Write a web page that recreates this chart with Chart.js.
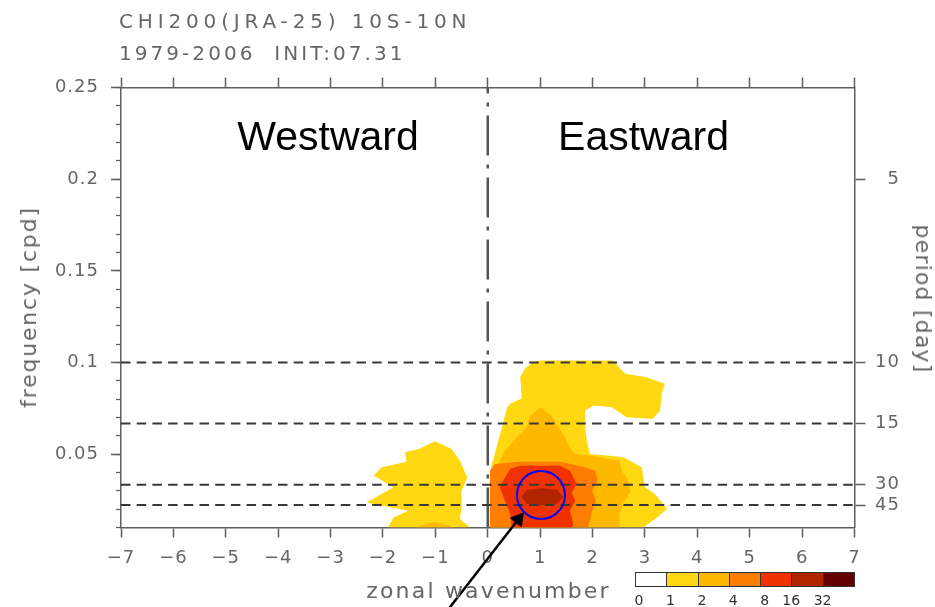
<!DOCTYPE html>
<html lang="en">
<head>
<meta charset="UTF-8">
<title>CHI200(JRA-25) 10S-10N wavenumber-frequency spectrum</title>
<script src="https://cdn.jsdelivr.net/npm/chart.js@4.4.1/dist/chart.umd.min.js"></script>
<style>
    body { margin: 0; padding: 0; background: #fff; }
    #wrap { position: relative; width: 935px; height: 607px; overflow: hidden; background: #fff; }
    #wrap canvas { position: absolute; left: 0; top: 0; }
    .txt {
        position: absolute;
        white-space: nowrap;
        line-height: 1;
        font-family: 'DejaVu Sans', sans-serif;
        font-size: 20px;
        color: #666;
    }
    .big {
        position: absolute;
        white-space: nowrap;
        line-height: 1;
        font-family: 'Liberation Sans', Arial, sans-serif;
        font-size: 41px;
        color: #000;
        transform: translate(-50%, -50%);
    }
    #cbar {
        position: absolute;
        left: 635px; top: 572px;
        width: 220px; height: 15px;
        box-sizing: border-box;
        border: 1px solid #333;
        display: flex;
    }
    #cbar div { flex: 1; border-left: 1px solid #333; }
    #cbar div:first-child { border-left: none; }
    .cblab {
        position: absolute;
        line-height: 1;
        font-family: 'DejaVu Sans', sans-serif;
        font-size: 14px;
        color: #333;
        transform: translate(-50%, -50%);
    }
</style>
</head>
<body>
<div id="wrap">
    <canvas id="spec" width="935" height="607"></canvas>

    <div class="txt" style="left:119px; top:21px; transform:translateY(-50%); letter-spacing:4.85px;">CHI200(JRA-25) 10S-10N</div>
    <div class="txt" style="left:119px; top:53px; transform:translateY(-50%); letter-spacing:3.05px;">1979-2006&nbsp; INIT:07.31</div>

    <div class="big" style="left:328px; top:135.5px;">Westward</div>
    <div class="big" style="left:643.5px; top:135.5px;">Eastward</div>

    <div class="txt" style="left:28.5px; top:306.5px; font-size:22px; transform:translate(-50%,-50%) rotate(-90deg); letter-spacing:1.8px;">frequency [cpd]</div>
    <div class="txt" style="left:488.5px; top:590.5px; font-size:22px; transform:translate(-50%,-50%); letter-spacing:2.2px;">zonal wavenumber</div>
    <div class="txt" style="left:923px; top:299px; font-size:22px; transform:translate(-50%,-50%) rotate(90deg); letter-spacing:1.2px;">period [day]</div>

    <div id="cbar"></div>
</div>

<script>
    // axis ranges
    const kMin = -7, kMax = 7;
    const freqMin = 0.01, freqMax = 0.25;

    // tick labels
    const freqLabels = [0.05, 0.1, 0.15, 0.2, 0.25];
    const freqMinor = [0.01, 0.02, 0.03, 0.04, 0.05, 0.06, 0.07, 0.08, 0.09, 0.1,
                       0.11, 0.12, 0.13, 0.14, 0.15, 0.16, 0.17, 0.18, 0.19, 0.2,
                       0.21, 0.22, 0.23, 0.24, 0.25];
    const periodTicks = [5, 10, 15, 30, 45];
    const periodLines = [10, 15, 30, 45];   // dashed reference periods (days)

    // shading levels and their colours
    const levelLabels = ['0', '1', '2', '4', '8', '16', '32'];
    const levelColors = ['#ffffff', '#ffd812', '#ffb800', '#ff7d00', '#f03200', '#b02400', '#640000'];

    // contour outlines, [zonal wavenumber, frequency cpd]
    const west1 = [
        [-1.90, 0.010], [-1.80, 0.0155], [-1.52, 0.0191], [-2.32, 0.0237],
        [-1.80, 0.0319], [-2.18, 0.0383], [-2.02, 0.0428], [-1.55, 0.0459],
        [-1.58, 0.0510], [-1.32, 0.0528], [-1.01, 0.0571], [-0.69, 0.0528],
        [-0.53, 0.0464], [-0.39, 0.0373], [-0.50, 0.0301], [-0.50, 0.0209],
        [-0.53, 0.0146], [-0.34, 0.010]
    ];
    const west2 = [[-1.39, 0.010], [-1.01, 0.0131], [-0.62, 0.010]];
    const east1 = [
        [0.04, 0.010], [0.06, 0.0264], [0.06, 0.0428], [0.10, 0.0464], [0.20, 0.0574],
        [0.29, 0.0665], [0.37, 0.0756], [0.43, 0.0776], [0.65, 0.0803], [0.62, 0.0920],
        [0.71, 0.0967], [0.86, 0.1002], [1.00, 0.1011], [2.39, 0.1011], [2.62, 0.0938],
        [3.03, 0.0920], [3.38, 0.0884], [3.32, 0.0829], [3.29, 0.0738], [3.15, 0.0692],
        [2.65, 0.0701], [2.37, 0.0756], [2.02, 0.0765], [1.86, 0.0738], [1.86, 0.0646],
        [1.89, 0.0574], [1.95, 0.0501], [2.33, 0.0492], [2.59, 0.0483], [2.94, 0.0428],
        [3.00, 0.0319], [3.19, 0.0283], [3.42, 0.0201], [3.23, 0.0155], [2.97, 0.010]
    ];
    const east2 = [
        [0.08, 0.010], [0.08, 0.0337], [0.14, 0.0401], [0.20, 0.0446], [0.33, 0.0519],
        [0.55, 0.0592], [0.74, 0.0646], [0.81, 0.0710], [1.00, 0.0756], [1.22, 0.0710],
        [1.35, 0.0646], [1.48, 0.0592], [1.57, 0.0537], [1.67, 0.0501], [1.98, 0.0492],
        [2.52, 0.0464], [2.56, 0.0410], [2.68, 0.0355], [2.72, 0.0291], [2.59, 0.0237],
        [2.52, 0.0173], [2.52, 0.010]
    ];
    const east4 = [
        [0.04, 0.010], [0.04, 0.0410], [0.14, 0.0446], [0.62, 0.0459], [1.38, 0.0459],
        [1.86, 0.0428], [2.05, 0.0410], [2.10, 0.0355], [1.99, 0.0301], [2.07, 0.0246],
        [1.99, 0.0191], [1.95, 0.0137], [1.91, 0.010]
    ];
    const east8 = [
        [0.46, 0.010], [0.43, 0.0173], [0.33, 0.0246], [0.23, 0.0319], [0.33, 0.0373],
        [0.43, 0.0421], [0.62, 0.0437], [1.38, 0.0437], [1.57, 0.0410], [1.70, 0.0337],
        [1.60, 0.0291], [1.67, 0.0246], [1.57, 0.0191], [1.63, 0.0119], [1.61, 0.010]
    ];
    const east16 = [
        [0.64, 0.0268], [0.75, 0.0306], [1.04, 0.0314], [1.32, 0.0306], [1.44, 0.0268],
        [1.32, 0.0230], [1.04, 0.0221], [0.75, 0.0230]
    ];

    // annotation: circled peak and the arrow pointing at it
    const peakMark = [1.016, 0.0277];
    const arrowPath = [[-0.79, -0.036], [0.585, 0.0145]];

    const axisGray = '#5e5e5e';
    const labelGray = '#666';
    const tickFont = { family: 'DejaVu Sans', size: 18 };

    const toXY = pts => pts.map(p => ({ x: p[0], y: p[1] }));

    function shade(pts, level, order) {
        return {
            data: toXY(pts),
            backgroundColor: levelColors[level],
            borderColor: levelColors[level],
            borderWidth: 0,
            fill: 'shape',
            pointRadius: 0,
            tension: 0,
            order: order
        };
    }

    const datasets = [
        shade(west1, 1, 20), shade(east1, 1, 20),
        shade(west2, 2, 19), shade(east2, 2, 19),
        shade(east4, 3, 18),
        shade(east8, 4, 17),
        shade(east16, 5, 16)
    ];

    periodLines.forEach(p => {
        datasets.push({
            data: [{ x: kMin, y: 1 / p }, { x: kMax, y: 1 / p }],
            borderColor: '#383838',
            borderWidth: 2,
            borderDash: [9.5, 6.2],
            pointRadius: 0,
            fill: false,
            order: 5
        });
    });

    // dash-dot line at wavenumber 0
    datasets.push({
        data: [{ x: 0, y: freqMin }, { x: 0, y: freqMax }],
        borderColor: '#555',
        borderWidth: 2.5,
        borderDash: [40, 9, 4, 9],
        pointRadius: 0,
        fill: false,
        order: 5
    });

    datasets.push({
        data: [{ x: peakMark[0], y: peakMark[1] }],
        showLine: false,
        pointRadius: 24,
        pointStyle: 'circle',
        pointBorderColor: '#0000ff',
        pointBorderWidth: 2,
        pointBackgroundColor: 'rgba(0,0,0,0)',
        order: 1
    });

    datasets.push({
        data: toXY(arrowPath),
        borderColor: '#000',
        borderWidth: 2.5,
        pointRadius: [0, 8],
        pointStyle: 'triangle',
        rotation: [0, 38],
        pointBackgroundColor: '#000',
        pointBorderColor: '#000',
        pointBorderWidth: 1,
        fill: false,
        clip: false,
        order: 1
    });

    const fmtK = v => (v < 0 ? '\u2212' + (-v) : String(v));

    const spacing = {
        id: 'spacing',
        beforeDraw(chart) { chart.ctx.letterSpacing = '1px'; }
    };

    new Chart(document.getElementById('spec'), {
        type: 'line',
        data: { datasets },
        plugins: [spacing],
        options: {
            responsive: false,
            animation: false,
            events: [],
            devicePixelRatio: 1,
            layout: { padding: { left: 0, top: 0, bottom: 0, right: 35 } },
            plugins: { legend: { display: false }, tooltip: { enabled: false } },
            scales: {
                x: {
                    type: 'linear', position: 'bottom', min: kMin, max: kMax,
                    afterFit: s => { s.height = 79.5; },
                    border: { display: true, color: axisGray, width: 1.5 },
                    grid: { drawOnChartArea: false, tickLength: 10, tickColor: axisGray, tickWidth: 1.5 },
                    ticks: {
                        stepSize: 1, autoSkip: false, maxRotation: 0, padding: 10.5,
                        color: labelGray, font: tickFont, callback: v => fmtK(v)
                    }
                },
                xTop: {
                    type: 'linear', position: 'top', min: kMin, max: kMax,
                    afterFit: s => { s.height = 87.5; },
                    border: { display: true, color: axisGray, width: 1.5 },
                    grid: { drawOnChartArea: false, tickLength: 10, tickColor: axisGray, tickWidth: 1.5 },
                    ticks: { stepSize: 1, display: false }
                },
                y: {
                    type: 'linear', position: 'left', min: freqMin, max: freqMax, weight: 1,
                    afterFit: s => { s.width = 121; },
                    afterBuildTicks: s => { s.ticks = freqLabels.map(v => ({ value: v })); },
                    border: { display: true, color: axisGray, width: 1.5 },
                    grid: { drawOnChartArea: false, tickLength: 10, tickColor: axisGray, tickWidth: 1.5 },
                    ticks: { padding: 12, color: labelGray, font: tickFont, callback: v => String(v) }
                },
                yMinor: {
                    type: 'linear', position: 'left', min: freqMin, max: freqMax, weight: 0,
                    afterFit: s => { s.width = 0; },
                    afterBuildTicks: s => { s.ticks = freqMinor.map(v => ({ value: v })); },
                    border: { display: false },
                    grid: { drawOnChartArea: false, tickLength: 5, tickColor: axisGray, tickWidth: 1.3 },
                    ticks: { display: false }
                },
                yPeriod: {
                    type: 'linear', position: 'right', min: freqMin, max: freqMax,
                    afterFit: s => { s.width = 45.5; },
                    afterBuildTicks: s => { s.ticks = periodTicks.map(p => ({ value: 1 / p })); },
                    border: { display: true, color: axisGray, width: 1.5 },
                    grid: { drawOnChartArea: false, tickLength: 11, tickColor: axisGray, tickWidth: 1.5 },
                    ticks: {
                        crossAlign: 'far', padding: 12, color: labelGray, font: tickFont,
                        callback: v => String(Math.round(1 / v))
                    }
                }
            }
        }
    });

    // colour bar
    const cbar = document.getElementById('cbar');
    const wrap = document.getElementById('wrap');
    const cellW = 220 / levelColors.length;
    levelColors.forEach(c => {
        const d = document.createElement('div');
        d.style.background = c;
        cbar.appendChild(d);
    });
    levelLabels.forEach((t, i) => {
        const s = document.createElement('span');
        s.className = 'cblab';
        s.textContent = t;
        s.style.left = (635 + i * cellW + (t.length === 1 ? 4 : -1)) + 'px';
        s.style.top = '600px';
        wrap.appendChild(s);
    });
</script>
</body>
</html>
